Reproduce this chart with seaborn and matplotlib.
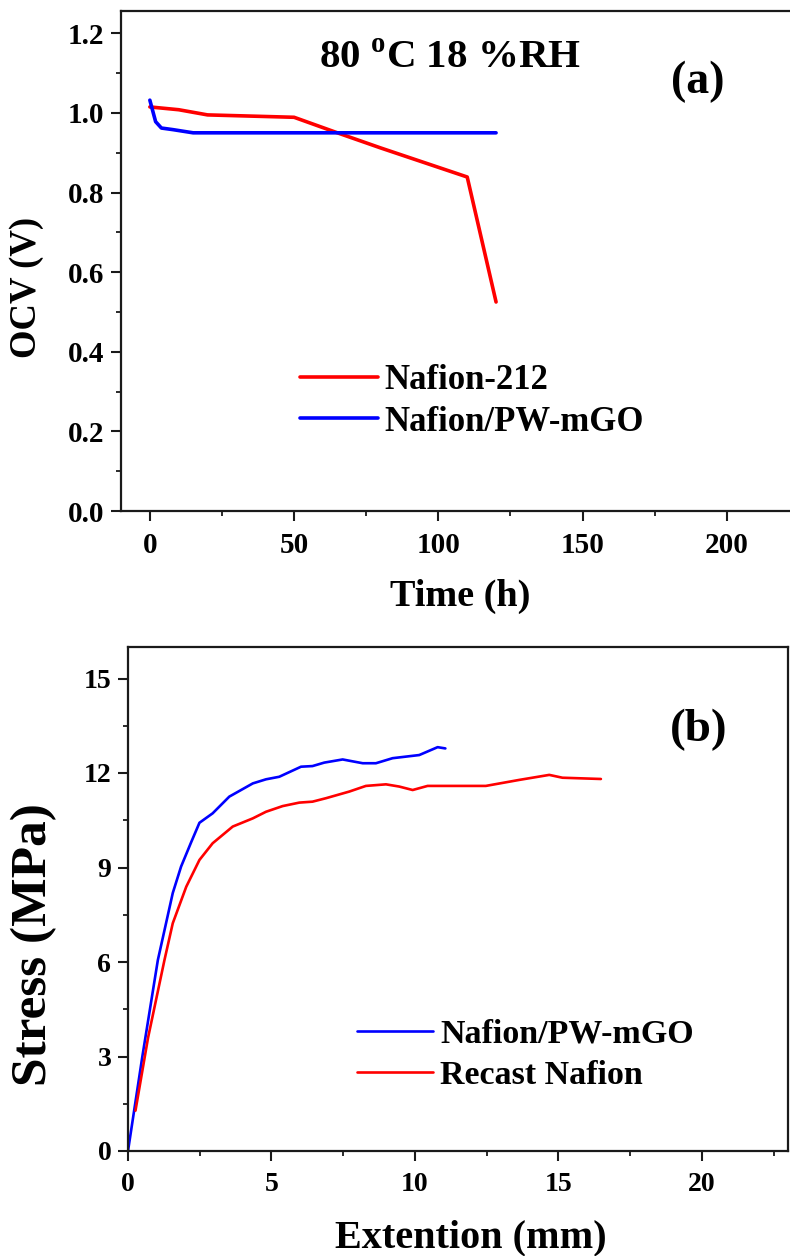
# ---------------------------------------------------
# Import Required Libraries
# ---------------------------------------------------
import numpy as np
import pandas as pd
import matplotlib
matplotlib.use("Agg")
import matplotlib.pyplot as plt
from matplotlib.ticker import MultipleLocator, FormatStrFormatter
import seaborn as sns

# ---------------------------------------------------
# Data
# ---------------------------------------------------
# (a) OCV durability at 80 C, 18 %RH
time_212 = [0, 10, 20, 50, 65, 80, 110, 120]
ocv_212 = [1.015, 1.008, 0.995, 0.989, 0.950, 0.912, 0.839, 0.525]

time_pw = [0, 1, 2, 4, 8, 15, 50, 100, 120]
ocv_pw = [1.032, 1.005, 0.978, 0.962, 0.958, 0.950, 0.950, 0.950, 0.950]

# (b) stress-strain curves
ext_pw = [0.0, 0.5, 1.04, 1.56, 1.85, 2.2, 2.49, 2.95, 3.53, 4.35, 4.81, 5.27,
          6.03, 6.43, 6.84, 7.48, 7.77, 8.18, 8.64, 9.22, 10.15, 10.79, 11.06]
str_pw = [0.0, 3.0, 6.06, 8.19, 9.03, 9.8, 10.42, 10.72, 11.25, 11.67, 11.8, 11.88,
          12.2, 12.22, 12.33, 12.43, 12.38, 12.31, 12.31, 12.47, 12.57, 12.82, 12.78]

ext_re = [0.26, 0.7, 1.27, 1.56, 2.03, 2.49, 2.95, 3.65, 4.35, 4.81, 5.39, 5.97,
          6.43, 6.9, 7.71, 8.29, 8.99, 9.45, 9.92, 10.44, 12.47, 13.63, 14.68,
          15.14, 16.48]
str_re = [1.28, 3.6, 6.06, 7.23, 8.39, 9.24, 9.77, 10.3, 10.56, 10.77, 10.95, 11.06,
          11.09, 11.2, 11.41, 11.59, 11.64, 11.57, 11.46, 11.59, 11.59, 11.78, 11.94,
          11.85, 11.81]

# ---------------------------------------------------
# Style
# ---------------------------------------------------
sns.set_style("ticks")
plt.rcParams["font.family"] = ["Liberation Serif", "DejaVu Serif"]
plt.rcParams["font.weight"] = "bold"
plt.rcParams["axes.labelweight"] = "bold"
plt.rcParams["text.color"] = "black"
plt.rcParams["axes.labelcolor"] = "black"
plt.rcParams["mathtext.fontset"] = "custom"
plt.rcParams["mathtext.rm"] = "Liberation Serif:bold"
plt.rcParams["mathtext.bf"] = "Liberation Serif:bold"
plt.rcParams["axes.linewidth"] = 1.6
plt.rcParams["axes.edgecolor"] = "#1a1a1a"

W, H = 790, 1256
fig = plt.figure(figsize=(W / 100, H / 100), dpi=100)

def setup_ticks(ax, size):
    ax.tick_params(which="major", direction="out", length=7, width=1.5,
                   labelsize=size, colors="#1a1a1a", labelcolor="black")
    ax.tick_params(which="minor", direction="out", length=3.8, width=1.3,
                   colors="#1a1a1a")
    ax.tick_params(axis="x", which="major", pad=8)
    ax.tick_params(axis="y", which="major", pad=5)
    for lab in ax.get_xticklabels() + ax.get_yticklabels():
        lab.set_fontweight("bold")

# ---------------------------------------------------
# (a) OCV vs time
# ---------------------------------------------------
ax1 = fig.add_axes([121 / W, 1 - 511 / H, 678 / W, 500 / H])
df_a1 = pd.DataFrame({"t": time_212, "v": ocv_212})
df_a2 = pd.DataFrame({"t": time_pw, "v": ocv_pw})
sns.lineplot(data=df_a1, x="t", y="v", ax=ax1, color="#ff0000", lw=2.6,
             sort=False, label="Nafion-212")
sns.lineplot(data=df_a2, x="t", y="v", ax=ax1, color="#0000ff", lw=2.6,
             sort=False, label="Nafion/PW-mGO")
ax1.set_xlim(-10, 225)
ax1.set_ylim(0, 1.256)
ax1.xaxis.set_major_locator(MultipleLocator(50))
ax1.xaxis.set_minor_locator(MultipleLocator(25))
ax1.yaxis.set_major_locator(MultipleLocator(0.2))
ax1.yaxis.set_minor_locator(MultipleLocator(0.1))
ax1.yaxis.set_major_formatter(FormatStrFormatter("%.1f"))
setup_ticks(ax1, 21)
ax1.set_xlabel("Time (h)", fontsize=27.5, fontweight="bold")
ax1.xaxis.set_label_coords(0.5, -0.135)
ax1.set_ylabel("OCV (V)", fontsize=26.5, fontweight="bold")
ax1.yaxis.set_label_coords(-0.114, 0.448)
ax1.text(0.485, 0.906, r"80 $^{\rm o}$C 18 %RH", transform=ax1.transAxes,
         ha="center", va="center", fontsize=29.5, fontweight="bold")
ax1.text(0.85, 0.858, "(a)", transform=ax1.transAxes, ha="center",
         va="center", fontsize=33, fontweight="bold")
leg1 = ax1.legend(loc="upper left", bbox_to_anchor=(0.243, 0.322), frameon=False,
                  fontsize=25, handlelength=2.25, handletextpad=0.2,
                  labelspacing=0.25, borderaxespad=0)
for t in leg1.get_texts():
    t.set_fontweight("bold")

# ---------------------------------------------------
# (b) Stress vs extension
# ---------------------------------------------------
ax2 = fig.add_axes([128 / W, 1 - 1151 / H, 660 / W, 504 / H])
df_b1 = pd.DataFrame({"x": ext_pw, "y": str_pw})
df_b2 = pd.DataFrame({"x": ext_re, "y": str_re})
sns.lineplot(data=df_b1, x="x", y="y", ax=ax2, color="#0000ff", lw=1.9,
             sort=False, label="Nafion/PW-mGO")
sns.lineplot(data=df_b2, x="x", y="y", ax=ax2, color="#ff0000", lw=1.9,
             sort=False, label="Recast Nafion")
ax2.set_xlim(0, 23)
ax2.set_ylim(0, 16)
ax2.xaxis.set_major_locator(MultipleLocator(5))
ax2.xaxis.set_minor_locator(MultipleLocator(2.5))
ax2.yaxis.set_major_locator(MultipleLocator(3))
ax2.yaxis.set_minor_locator(MultipleLocator(1.5))
setup_ticks(ax2, 20)
ax2.set_xlabel("Extention (mm)", fontsize=29, fontweight="bold")
ax2.xaxis.set_label_coords(0.52, -0.135)
ax2.set_ylabel("Stress (MPa)", fontsize=37, fontweight="bold")
ax2.yaxis.set_label_coords(-0.108, 0.409)
ax2.text(0.864, 0.835, "(b)", transform=ax2.transAxes, ha="center",
         va="center", fontsize=34, fontweight="bold")
leg2 = ax2.legend(loc="upper left", bbox_to_anchor=(0.326, 0.29), frameon=False,
                  fontsize=24.5, handlelength=2.25, handletextpad=0.2,
                  labelspacing=0.3, borderaxespad=0)
for t in leg2.get_texts():
    t.set_fontweight("bold")

fig.savefig("out.png", dpi=100)
